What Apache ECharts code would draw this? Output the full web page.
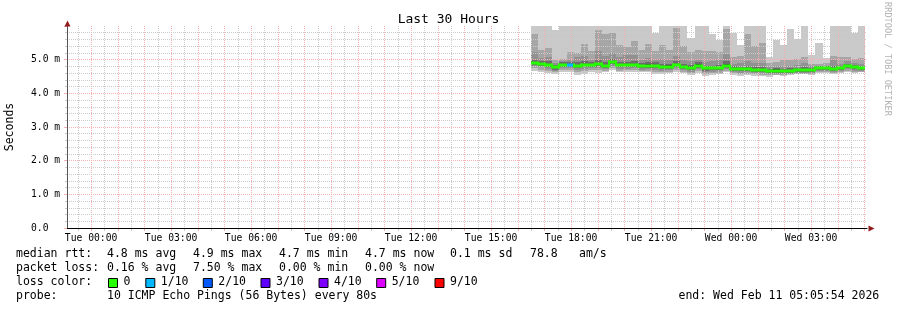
<!DOCTYPE html>
<html><head><meta charset="utf-8">
<script src="https://cdn.jsdelivr.net/npm/echarts@6/dist/echarts.min.js"></script>
<style>html,body{margin:0;padding:0;background:#fff}#c{width:897px;height:310px}</style>
</head><body><div id="c"></div><script>
// ---- data (hours relative to Tue 00:00) ----
const axisStartHour = -0.9017;   // Mon 23:05:54
const axisEndHour = 29.0983;     // Wed 05:05:54
const binStartHour = 16.5;
const binHours = 16 / 60;
const tickHours = [0, 3, 6, 9, 12, 15, 18, 21, 24, 27];
const tickLabels = ['Tue 00:00','Tue 03:00','Tue 06:00','Tue 09:00','Tue 12:00','Tue 15:00','Tue 18:00','Tue 21:00','Wed 00:00','Wed 03:00'];
const yTickLabels = ['0.0','1.0 m','2.0 m','3.0 m','4.0 m','5.0 m'];

const median = [4.90,4.87,4.83,4.77,4.84,4.84,4.81,4.84,4.84,4.86,4.81,4.93,4.83,4.83,4.84,4.80,
 4.82,4.82,4.78,4.79,4.84,4.78,4.76,4.82,4.74,4.74,4.75,4.82,4.73,4.72,4.72,4.70,
 4.69,4.66,4.67,4.66,4.67,4.68,4.69,4.70,4.75,4.75,4.72,4.74,4.81,4.77,4.74];
const lostPings = [0,0,0,0,0,1,0,0,0,0,0,0,0,0,0,0, 0,0,0,0,0,0,0,0,0,0,0,0,0,0,0,0, 0,0,0,0,0,0,0,0,0,0,0,0,0,0,0];

const smoke1Hi = [6,6,6,5.87,6,6,6,6,6,6,6,6,6,6,6,6,
 6,5.78,6,6,6,6,5.63,6,6,5.76,5.59,6,5.78,5.44,6,6,
 6,5.08,5.58,5.43,5.9,5.62,6,5.13,5.5,5.05,6,6,6,5.8,6];
const smoke1Lo = [4.65,4.62,4.60,4.58,4.62,4.63,4.55,4.58,4.64,4.60,4.62,4.68,4.62,4.64,4.63,4.62,
 4.62,4.58,4.57,4.60,4.62,4.60,4.55,4.60,4.52,4.55,4.58,4.62,4.55,4.52,4.53,4.52,
 4.52,4.50,4.53,4.52,4.54,4.56,4.56,4.55,4.60,4.60,4.58,4.60,4.63,4.60,4.62];
const smoke2Hi = [5.76,5.30,5.35,4.98,5.02,5.23,5.20,5.47,5.25,5.88,5.76,5.78,5.43,5.37,5.54,5.28,
 5.48,5.25,5.43,5.28,5.95,5.42,5.22,5.30,5.25,5.25,5.22,5.92,5.08,5.12,5.75,5.40,
 5.50,4.90,4.92,4.98,4.98,5.02,5.07,4.88,4.88,4.90,5.10,5.07,5.07,5.02,5.05];
const smoke2Lo = [4.74,4.70,4.67,4.62,4.68,4.69,4.62,4.66,4.69,4.68,4.66,4.76,4.67,4.68,4.68,4.66,
 4.67,4.64,4.62,4.64,4.68,4.64,4.59,4.65,4.57,4.59,4.61,4.67,4.59,4.56,4.57,4.56,
 4.55,4.53,4.55,4.54,4.56,4.57,4.58,4.58,4.63,4.63,4.61,4.62,4.67,4.64,4.63];
const smoke3Hi = [5.22,5.05,5.07,4.90,4.95,5.00,5.07,5.10,5.00,5.25,5.10,5.20,5.07,5.13,5.15,5.00,
 5.05,4.98,5.02,5.00,5.12,5.00,4.95,5.00,4.92,4.95,4.98,5.17,4.88,4.90,4.95,4.90,
 4.90,4.78,4.80,4.80,4.80,4.85,4.90,4.80,4.82,4.82,4.98,4.88,4.95,4.90,4.88];
const smoke3Lo = [4.80,4.77,4.73,4.66,4.74,4.74,4.69,4.72,4.74,4.75,4.71,4.82,4.73,4.73,4.74,4.70,
 4.72,4.70,4.67,4.69,4.74,4.68,4.64,4.71,4.62,4.64,4.65,4.72,4.63,4.60,4.62,4.60,
 4.59,4.56,4.58,4.56,4.58,4.59,4.60,4.61,4.66,4.66,4.63,4.65,4.71,4.67,4.65];
const smoke4Hi = [5.00,4.97,4.95,4.85,4.93,4.92,4.92,4.95,4.94,4.98,4.93,5.02,4.93,4.93,4.95,4.90,
 4.92,4.92,4.88,4.88,4.95,4.88,4.84,4.92,4.82,4.82,4.84,4.95,4.80,4.79,4.80,4.78,
 4.77,4.72,4.74,4.73,4.74,4.76,4.78,4.76,4.80,4.80,4.80,4.82,4.88,4.84,4.82];
const smoke4Lo = [4.84,4.81,4.77,4.70,4.78,4.78,4.74,4.77,4.78,4.79,4.75,4.86,4.77,4.77,4.78,4.74,
 4.76,4.75,4.71,4.73,4.78,4.72,4.69,4.75,4.67,4.68,4.69,4.76,4.67,4.65,4.66,4.64,
 4.63,4.60,4.61,4.60,4.61,4.62,4.63,4.64,4.69,4.69,4.66,4.68,4.75,4.71,4.68];
const smoke5Hi = [4.94,4.90,4.87,4.82,4.88,4.87,4.85,4.88,4.88,4.90,4.85,4.97,4.86,4.87,4.88,4.83,
 4.86,4.85,4.82,4.83,4.88,4.81,4.80,4.86,4.78,4.77,4.79,4.86,4.76,4.76,4.75,4.73,
 4.72,4.69,4.71,4.69,4.70,4.72,4.73,4.73,4.79,4.78,4.76,4.78,4.85,4.80,4.78];
const smoke5Lo = [4.87,4.84,4.80,4.74,4.81,4.81,4.78,4.81,4.81,4.83,4.78,4.90,4.80,4.80,4.81,4.77,
 4.79,4.79,4.75,4.76,4.81,4.75,4.73,4.79,4.71,4.71,4.72,4.79,4.70,4.69,4.69,4.67,
 4.66,4.63,4.64,4.63,4.64,4.65,4.66,4.67,4.72,4.72,4.69,4.71,4.78,4.74,4.71];

const lossLegendLabels = ['0','1/10','2/10','3/10','4/10','5/10','9/10'];
const lossLegendColors = ['#26ff00','#00b8ff','#0059ff','#5e00ff','#7e00ff','#dd00ff','#ff0000'];
const statsLine1 = ['median rtt:','4.8 ms avg','4.9 ms max','4.7 ms min','4.7 ms now','0.1 ms sd','78.8','am/s'];
const statsLine2 = ['packet loss:','0.16 % avg','7.50 % max','0.00 % min','0.00 % now'];
const probeText = ['probe:','10 ICMP Echo Pings (56 Bytes) every 80s'];
const endText = 'end: Wed Feb 11 05:05:54 2026';

// ---- chart ----
const FONT = 'DejaVu Sans Mono';
const RED = '#f6b0b0', GRAY = '#cbcbcb';
const chart = echarts.init(document.getElementById('c'), null, {renderer: 'canvas'});

function lossColor(n) { return n >= 6 ? lossLegendColors[6] : lossLegendColors[n]; }

function bandSeries(lo, hi, color) {
  return {
    type: 'custom', xAxisIndex: 0, yAxisIndex: 0, z: 2, silent: true,
    data: lo.map((l, i) => [binStartHour + i * binHours, binStartHour + (i + 1) * binHours, l, hi[i]]),
    encode: {x: [0, 1], y: [2, 3]},
    renderItem(params, api) {
      const a = api.coord([api.value(0), api.value(3)]);
      const b = api.coord([api.value(1), api.value(2)]);
      const x0 = Math.round(a[0]), x1 = Math.round(b[0]);
      const y0 = Math.round(a[1]), y1 = Math.round(b[1]);
      return {type: 'rect', shape: {x: x0, y: y0, width: x1 - x0, height: Math.max(1, y1 - y0)}, style: {fill: color}};
    }
  };
}

const medianSeries = {
  type: 'custom', xAxisIndex: 0, yAxisIndex: 0, z: 5, silent: true,
  data: median.map((m, i) => [binStartHour + i * binHours, binStartHour + (i + 1) * binHours, m, i > 0 ? median[i - 1] : m, lostPings[i]]),
  encode: {x: [0, 1], y: 2},
  renderItem(params, api) {
    const a = api.coord([api.value(0), api.value(2)]);
    const b = api.coord([api.value(1), api.value(2)]);
    const p = api.coord([api.value(0), api.value(3)]);
    const col = lossColor(api.value(4));
    const x0 = Math.round(a[0]), x1 = Math.round(b[0]);
    const y = Math.round(a[1]);
    const yp = Math.round(p[1]);
    const children = [{type: 'rect', shape: {x: x0, y: y - 1.5, width: x1 - x0, height: 3}, style: {fill: col}}];
    if (params.dataIndex > 0 && yp !== y) {
      children.push({type: 'rect', shape: {x: x0 - 1, y: Math.min(y, yp) - 1.5, width: 2, height: Math.abs(y - yp) + 3}, style: {fill: col}});
    }
    return {type: 'group', children};
  }
};

// vertical grid: every 30 min (gray), every hour (red)
const gridHours = [];
for (let h = Math.ceil(axisStartHour * 2) / 2; h <= axisEndHour; h += 0.5) gridHours.push(h);
const vGridSeries = {
  type: 'custom', xAxisIndex: 0, yAxisIndex: 0, z: 3, silent: true,
  data: gridHours.map(h => [h]),
  encode: {x: 0},
  renderItem(params, api) {
    const h = api.value(0);
    const top = api.coord([h, 6]);
    const bot = api.coord([h, 0]);
    const x = Math.round(top[0]) + 0.5;
    const major = Math.abs(h - Math.round(h)) < 1e-6;
    const col = major ? RED : GRAY;
    return {type: 'group', children: [
      {type: 'line', shape: {x1: x, y1: Math.round(top[1]), x2: x, y2: Math.round(bot[1])}, style: {stroke: col, lineWidth: 1, lineDash: [1, 1]}},
      {type: 'line', shape: {x1: x, y1: Math.round(bot[1]), x2: x, y2: Math.round(bot[1]) + 3}, style: {stroke: col, lineWidth: 1}}
    ]};
  }
};

const graphic = [];
function txt(x, y, text, opts) {
  graphic.push(Object.assign({type: 'text', x, y, silent: true, z: 10,
    style: Object.assign({text, font: '11.5px ' + FONT, fill: '#000', textAlign: 'left', textVerticalAlign: 'middle'}, (opts && opts.style) || {})},
    opts && opts.rotation !== undefined ? {rotation: opts.rotation} : {}));
}
const statsX = [16, 107, 193, 279, 365, 450, 530, 579];
statsLine1.forEach((t, i) => txt(statsX[i], 254.5, t));
statsLine2.forEach((t, i) => txt(statsX[i], 268.5, t));
txt(16, 282.5, 'loss color:');
const sqX = [108.5, 145.8, 203.3, 261, 319, 376.7, 435];
lossLegendLabels.forEach((t, i) => {
  graphic.push({type: 'rect', silent: true, z: 10, shape: {x: sqX[i], y: 278.5, width: 9, height: 9},
    style: {fill: lossLegendColors[i], stroke: '#000', lineWidth: 1}});
  txt(sqX[i] + 15, 282.5, t);
});
txt(16, 296.5, probeText[0]);
txt(107, 296.5, probeText[1]);
txt(678.5, 296.5, endText);
txt(10.5, 127, 'Seconds', {style: {textAlign: 'center'}, rotation: Math.PI / 2});
txt(887.5, 59, 'RRDTOOL / TOBI OETIKER', {style: {textAlign: 'center', font: '8.6px ' + FONT, fill: '#b4b4b4'}, rotation: -Math.PI / 2});
// axis arrows
graphic.push({type: 'polygon', silent: true, z: 10, shape: {points: [[67.5, 20.5], [64.5, 26.5], [70.5, 26.5]]}, style: {fill: '#931c1c'}});
graphic.push({type: 'polygon', silent: true, z: 10, shape: {points: [[874.5, 228.5], [868.5, 225.5], [868.5, 231.5]]}, style: {fill: '#931c1c'}});

chart.setOption({
  animation: false,
  backgroundColor: '#fff',
  title: {text: 'Last 30 Hours', left: 'center', top: 8,
    textStyle: {fontFamily: FONT, fontSize: 13, fontWeight: 'normal', color: '#000'}},
  grid: {left: 67, right: 30, top: 26, bottom: 82},
  xAxis: {
    type: 'value', min: axisStartHour, max: axisEndHour, position: 'bottom', z: 4,
    axisLine: {show: true, onZero: false, lineStyle: {color: '#000', width: 1}},
    axisTick: {show: false},
    axisLabel: {show: true, customValues: tickHours, margin: 5, fontFamily: FONT, fontSize: 9.7, color: '#000',
      formatter: v => tickLabels[tickHours.indexOf(Math.round(v))] || ''},
    splitLine: {show: false}
  },
  yAxis: {
    type: 'value', min: 0, max: 6, interval: 1, z: 4,
    axisLine: {show: true, onZero: false, lineStyle: {color: '#555', width: 1}},
    axisTick: {show: true, length: 3, lineStyle: {color: RED}},
    minorTick: {show: true, splitNumber: 5, length: 2, lineStyle: {color: GRAY}},
    axisLabel: {margin: 36, align: 'left', fontFamily: FONT, fontSize: 9.7, color: '#000',
      formatter: v => yTickLabels[Math.round(v)] || ''},
    splitLine: {show: true, showMinLine: false, showMaxLine: false, lineStyle: {color: RED, type: [1, 1], width: 1}},
    minorSplitLine: {show: true, lineStyle: {color: GRAY, type: [1, 1], width: 1}}
  },
  series: [
    bandSeries(smoke1Lo, smoke1Hi, '#c9c9c9'),
    bandSeries(smoke2Lo, smoke2Hi, '#a6a6a6'),
    bandSeries(smoke3Lo, smoke3Hi, '#919191'),
    bandSeries(smoke4Lo, smoke4Hi, '#6c6c6c'),
    bandSeries(smoke5Lo, smoke5Hi, '#3f3f3f'),
    vGridSeries,
    medianSeries
  ],
  graphic
});
</script></body></html>
